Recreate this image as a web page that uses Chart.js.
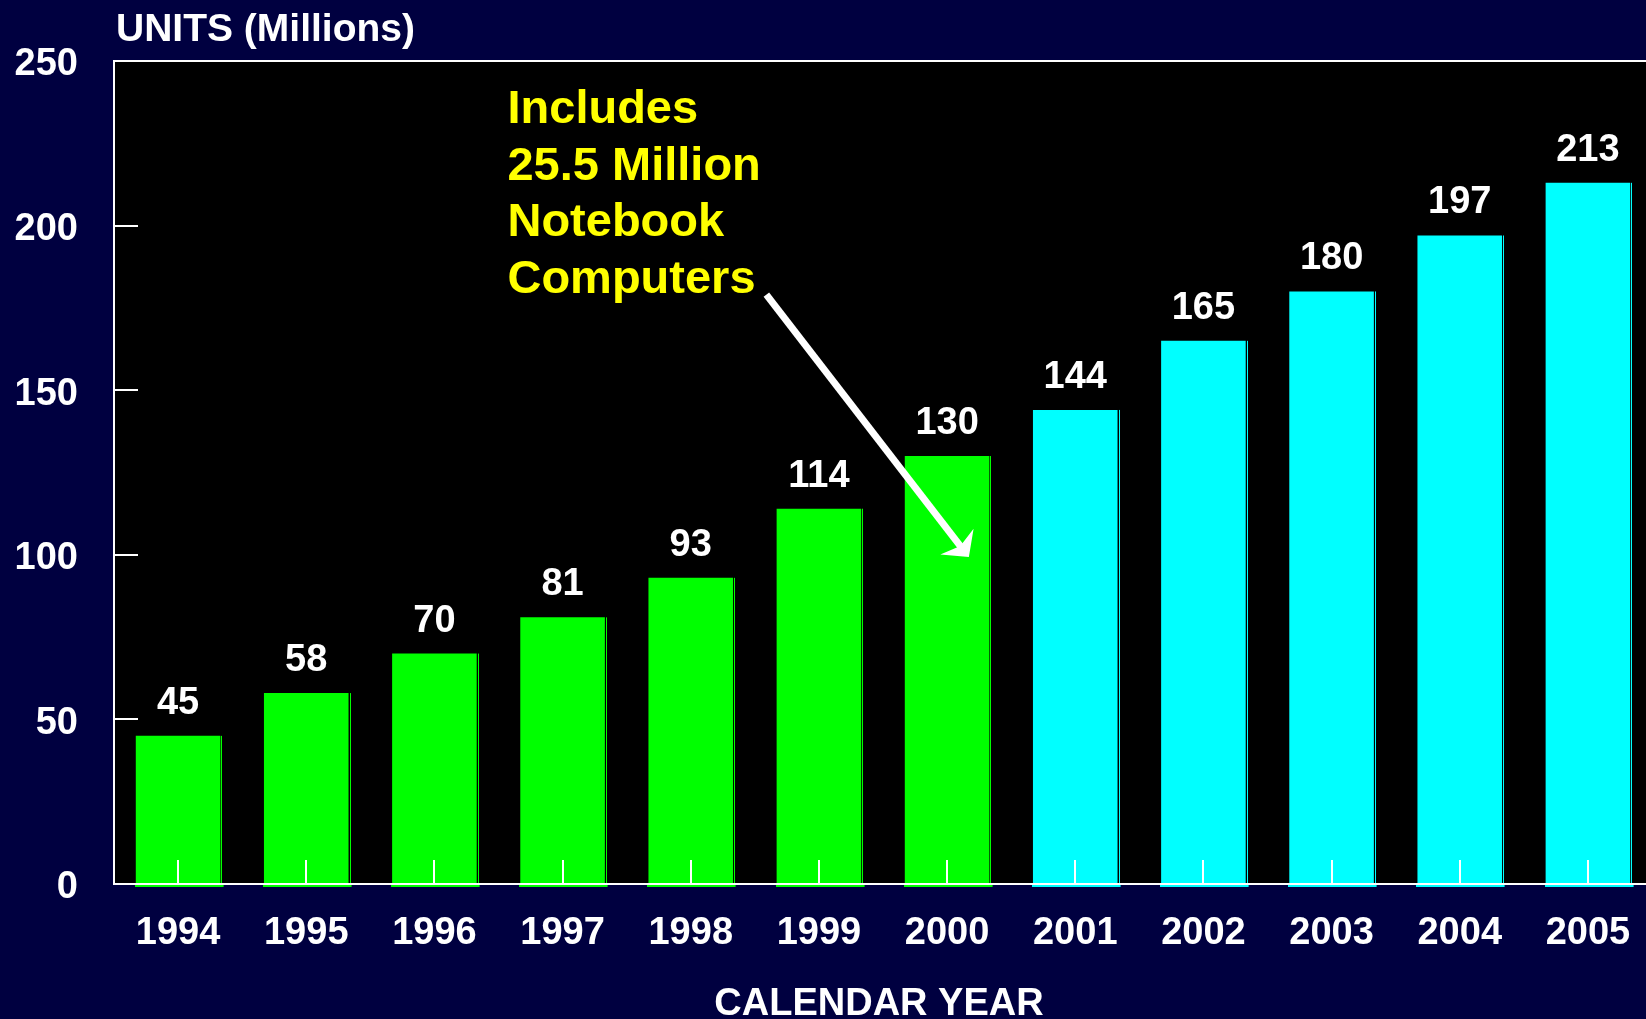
<!DOCTYPE html>
<html>
<head>
<meta charset="utf-8">
<script src="https://cdn.jsdelivr.net/npm/chart.js@4"></script>
<style>
html, body { margin: 0; padding: 0; background: #000040; overflow: hidden; }
#wrap { width: 1646px; height: 1019px; overflow: hidden; }
</style>
</head>
<body>
<!-- plot runs slightly past the right edge, as in the original slide -->
<div id="wrap"><canvas id="unitsChart" width="1652" height="1019"></canvas></div>
<script>
// PC shipments, millions of units
const years = ["1994", "1995", "1996", "1997", "1998", "1999", "2000", "2001", "2002", "2003", "2004", "2005"];
const units = [45, 58, 70, 81, 93, 114, 130, 144, 165, 180, 197, 213];
const yTicks = [0, 50, 100, 150, 200, 250];
const lastActualYear = "2000";
const noteLines = ["Includes", "25.5 Million", "Notebook", "Computers"];

const FONT = '"Liberation Sans", Arial, sans-serif';
const GREEN = "#00ff00";
const CYAN = "#00ffff";
const barColors = years.map(y => Number(y) <= Number(lastActualYear) ? GREEN : CYAN);

// pixel for a fractional category index
function xAt(scale, idx) {
    const i = Math.floor(idx);
    const p0 = scale.getPixelForValue(i);
    const step = scale.getPixelForValue(1) - scale.getPixelForValue(0);
    return p0 + (idx - i) * step;
}

const decorPlugin = {
    id: "decor",
    beforeDraw(chart) {
        const { ctx, chartArea: a } = chart;
        ctx.save();
        ctx.fillStyle = "#000040";
        ctx.fillRect(0, 0, chart.width, chart.height);
        ctx.fillStyle = "#000000";
        ctx.fillRect(a.left, a.top, a.right - a.left, a.bottom - a.top);
        ctx.restore();
    },
    afterDatasetsDraw(chart) {
        const { ctx, chartArea: a, scales: { x, y } } = chart;
        const meta = chart.getDatasetMeta(0);
        ctx.save();

        // thin edge line to the right of / below each bar
        meta.data.forEach((bar, i) => {
            const p = bar.getProps(["x", "y", "base", "width"], true);
            const left = p.x - p.width / 2;
            const right = p.x + p.width / 2;
            ctx.fillStyle = barColors[i];
            ctx.fillRect(Math.round(right) + 1, p.y, 1, p.base - p.y + 3);
            ctx.fillRect(Math.round(left) - 1, p.base + 1, p.width + 4, 2);
        });

        // white frame and inward ticks
        ctx.fillStyle = "#ffffff";
        ctx.fillRect(a.left - 1, a.top - 1, 2, a.bottom - a.top + 2);
        ctx.fillRect(a.left - 1, a.top - 1, a.right - a.left + 1, 2);
        ctx.fillRect(a.left - 1, a.bottom - 1, a.right - a.left + 1, 2);
        y.ticks.forEach(t => {
            const py = Math.round(y.getPixelForValue(t.value));
            ctx.fillRect(a.left, py - 1, 24, 2);
        });
        x.ticks.forEach((t, i) => {
            const px = Math.round(x.getPixelForTick(i));
            ctx.fillRect(px - 1, a.bottom - 24, 2, 24);
        });

        // value labels
        ctx.font = "bold 38px " + FONT;
        ctx.textAlign = "center";
        ctx.textBaseline = "alphabetic";
        meta.data.forEach((bar, i) => {
            ctx.fillText(String(units[i]), bar.x, bar.y - 22);
        });

        // titles
        ctx.textAlign = "left";
        ctx.font = "bold 39px " + FONT;
        ctx.fillText("UNITS (Millions)", a.left + 2, 41);
        ctx.textAlign = "center";
        ctx.font = "bold 38px " + FONT;
        ctx.fillText("CALENDAR YEAR", 879, 1015);

        // annotation text
        ctx.textAlign = "left";
        ctx.fillStyle = "#ffff00";
        ctx.font = "bold 47px " + FONT;
        const noteX = xAt(x, 2.57);
        noteLines.forEach((line, i) => {
            ctx.fillText(line, noteX, 123 + i * 56.7);
        });

        // arrow to the 2000 bar
        const sx = xAt(x, 4.59), sy = y.getPixelForValue(179);
        const tx = xAt(x, 6.17), ty = y.getPixelForValue(99.3);
        const len = Math.hypot(tx - sx, ty - sy);
        const ux = (tx - sx) / len, uy = (ty - sy) / len;
        const nx = -uy, ny = ux;
        ctx.strokeStyle = "#ffffff";
        ctx.lineWidth = 7;
        ctx.lineCap = "butt";
        ctx.beginPath();
        ctx.moveTo(sx, sy);
        ctx.lineTo(tx - ux * 12, ty - uy * 12);
        ctx.stroke();
        ctx.fillStyle = "#ffffff";
        ctx.beginPath();
        ctx.moveTo(tx, ty);
        ctx.lineTo(tx - ux * 19.5 + nx * 21, ty - uy * 19.5 + ny * 21);
        ctx.lineTo(tx - ux * 14, ty - uy * 14);
        ctx.lineTo(tx - ux * 19.5 - nx * 21, ty - uy * 19.5 - ny * 21);
        ctx.closePath();
        ctx.fill();

        ctx.restore();
    }
};

const ctx = document.getElementById("unitsChart").getContext("2d");
window.myChart = new Chart(ctx, {
    type: "bar",
    data: {
        labels: years,
        datasets: [{
            data: units,
            backgroundColor: barColors,
            borderWidth: 0,
            barPercentage: 0.66,
            categoryPercentage: 1.0
        }]
    },
    options: {
        responsive: false,
        animation: false,
        layout: { padding: { top: 61, left: 0, right: 0, bottom: 0 } },
        plugins: {
            legend: { display: false },
            tooltip: { enabled: false },
            title: { display: false }
        },
        scales: {
            x: {
                grid: { display: false, drawTicks: false },
                border: { display: false },
                ticks: {
                    color: "#ffffff",
                    font: { family: FONT, size: 38, weight: "bold" },
                    padding: 27,
                    maxRotation: 0,
                    autoSkip: false
                },
                afterFit(scale) {
                    scale.height = 135;
                    scale.paddingLeft = 0;
                    scale.paddingRight = 0;
                }
            },
            y: {
                min: yTicks[0],
                max: yTicks[yTicks.length - 1],
                grid: { display: false, drawTicks: false },
                border: { display: false },
                afterBuildTicks(scale) { scale.ticks = yTicks.map(v => ({ value: v })); },
                ticks: {
                    color: "#ffffff",
                    font: { family: FONT, size: 38, weight: "bold" },
                    padding: 36,
                    labelOffset: 4
                },
                afterFit(scale) {
                    scale.width = 114;
                    scale.paddingTop = 0;
                    scale.paddingBottom = 0;
                }
            }
        }
    },
    plugins: [decorPlugin]
});
</script>
</body>
</html>
